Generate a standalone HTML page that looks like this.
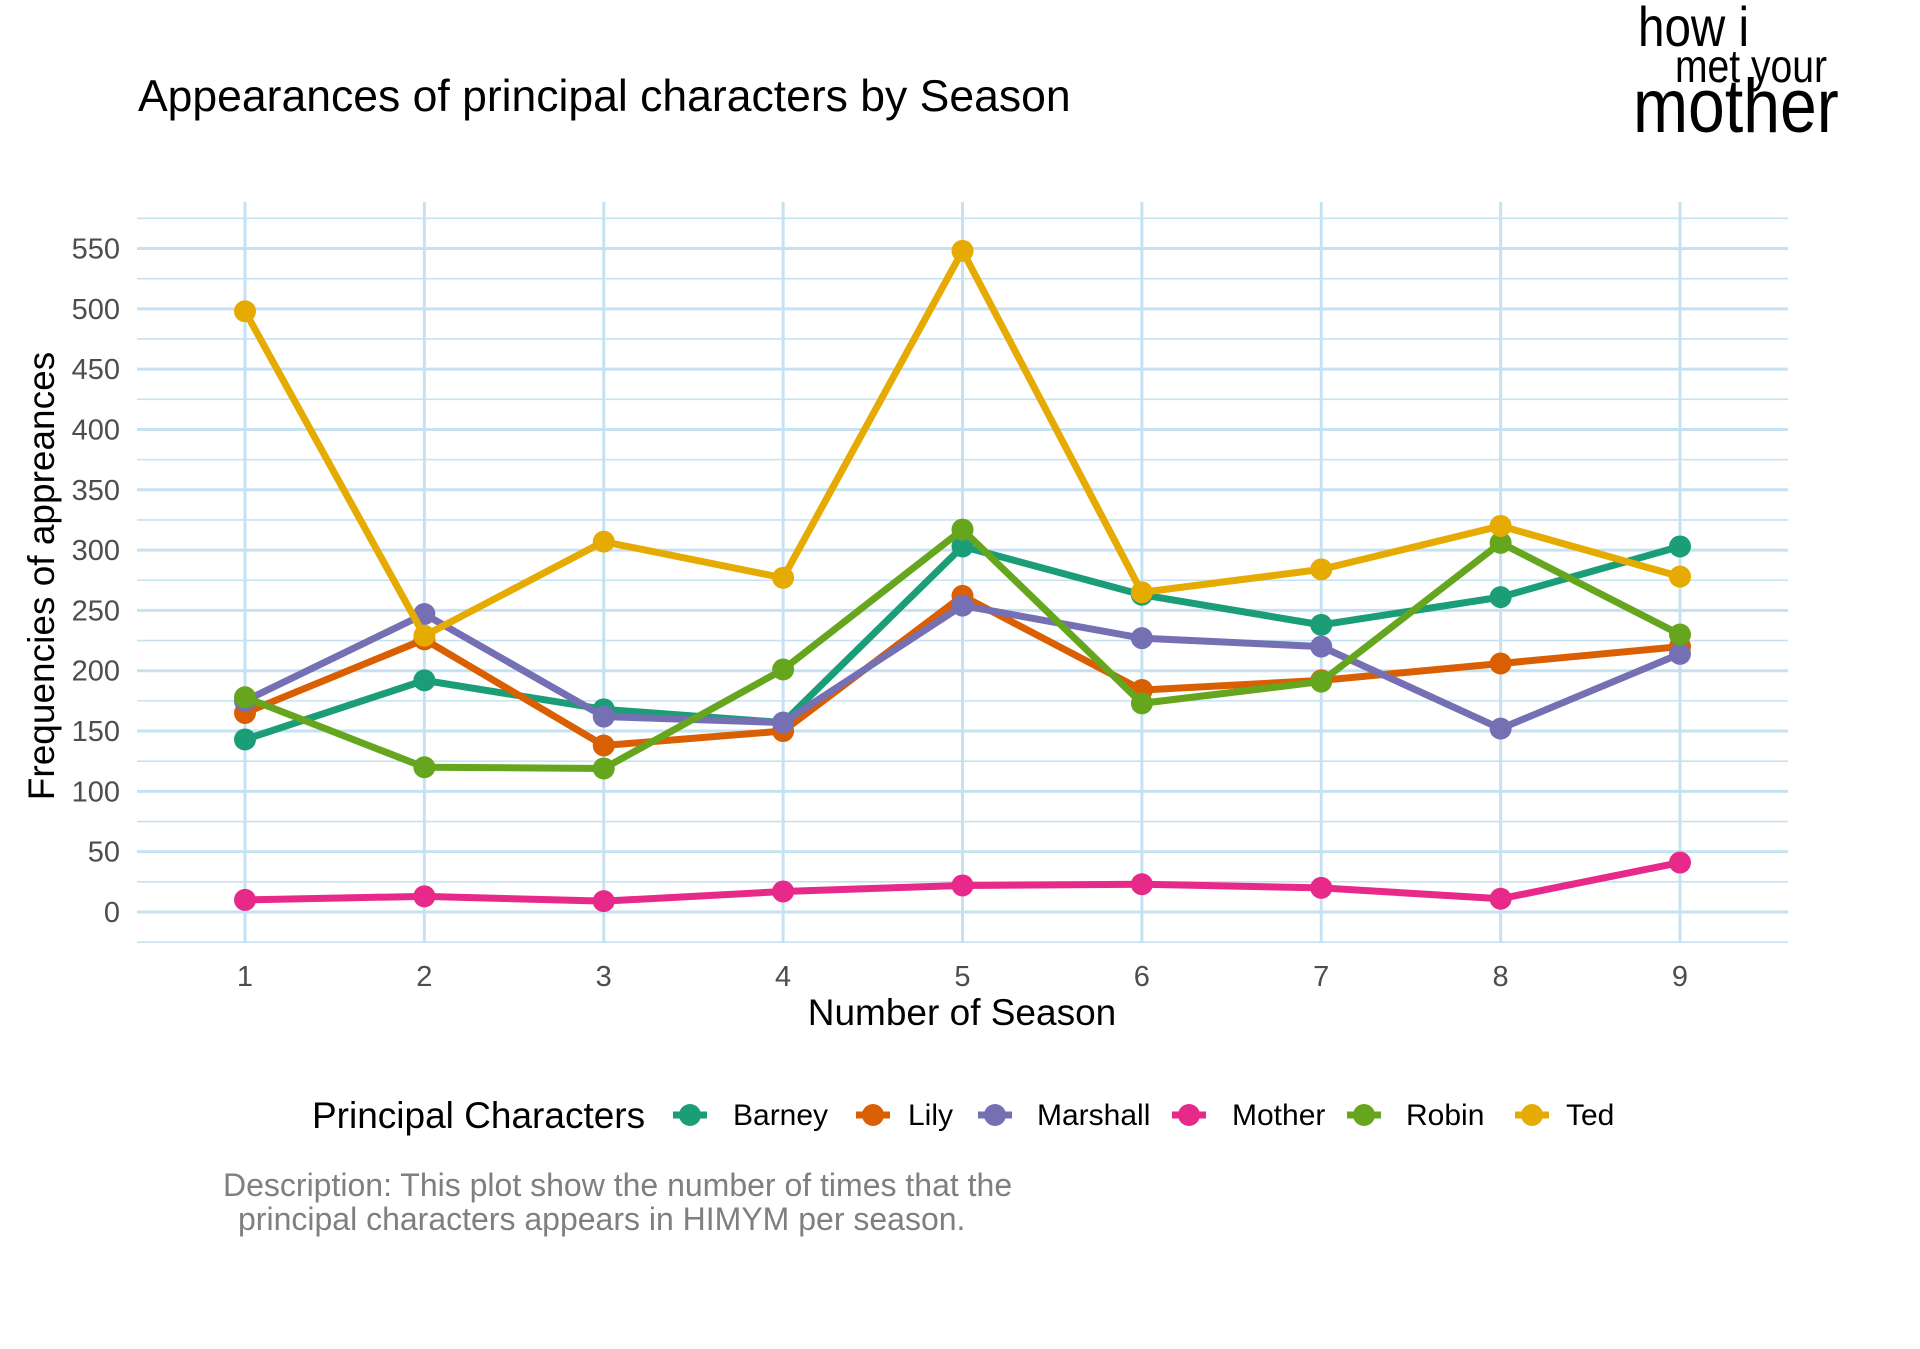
<!DOCTYPE html>
<html><head><meta charset="utf-8"><style>
body{margin:0;background:#fff;width:1920px;height:1344px;overflow:hidden;font-family:"Liberation Sans",sans-serif}
</style></head><body>
<svg width="1920" height="1344" xmlns="http://www.w3.org/2000/svg">
<text x="138" y="111" font-size="44.5" fill="#000">Appearances of principal characters by Season</text>
<g font-family="'Liberation Sans Narrow','Liberation Sans',sans-serif" fill="#000">
<text x="1638" y="46" font-size="56" transform="translate(1638,0) scale(0.85,1) translate(-1638,0)">how i</text>
<text x="1675" y="82" font-size="46" transform="translate(1675,0) scale(0.85,1) translate(-1675,0)">met your</text>
<text x="1633" y="132" font-size="76" transform="translate(1633,0) scale(0.87,1) translate(-1633,0)">mother</text>
</g>
<g id="grid"></g>
<g id="yticks"></g>
<g id="xticks"></g>
<g id="series"></g>
<text x="962" y="1025" font-size="37" text-anchor="middle" fill="#000">Number of Season</text>
<text transform="translate(54,576) rotate(-90)" font-size="37" text-anchor="middle" fill="#000">Frequencies of appreances</text>
<g id="legend">
<text x="312" y="1128" font-size="37" fill="#000">Principal Characters</text>
</g>
<text x="223" y="1196" font-size="32" fill="#7f7f7f">Description: This plot show the number of times that the</text>
<text x="238" y="1230" font-size="32" fill="#7f7f7f">principal characters appears in HIMYM per season.</text>
</svg>
<script>
const seasons=[1,2,3,4,5,6,7,8,9];
const names=["Barney","Lily","Marshall","Mother","Robin","Ted"];
const colors=["#1B9E77","#D95F02","#7570B3","#E7298A","#66A61E","#E6AB02"];
const barney=[143,192,168,157,303,263,238,261,303];
const lily=[165,226,138,150,262,184,192,206,220];
const marshall=[175,247,162,157,254,227,220,152,214];
const mother=[10,13,9,17,22,23,20,11,41];
const robin=[178,120,119,201,317,173,191,306,230];
const ted=[498,229,307,277,548,265,284,320,278];
const yTicks=[0,50,100,150,200,250,300,350,400,450,500,550];
const series=[barney,lily,marshall,mother,robin,ted];
const NS="http://www.w3.org/2000/svg";
function X(s){return 245+(s-1)*(1680-245)/8;}
function Y(v){return 912-v*(912-248.5)/550;}
function mk(t,a,p){const e=document.createElementNS(NS,t);for(const k in a)e.setAttribute(k,a[k]);p.appendChild(e);return e;}
const grid=document.getElementById('grid');
for(let v=-25;v<=575;v+=25){const major=v%50===0;
const l=mk('line',{x1:137,x2:1788,y1:Y(v),y2:Y(v),stroke:'#c6e2f2','stroke-width':major?3:1.6},grid);

}
seasons.forEach(s=>{const l=mk('line',{x1:X(s),x2:X(s),y1:202,y2:943,stroke:'#c6e2f2','stroke-width':3},grid);

});
const yt=document.getElementById('yticks');
yTicks.forEach(v=>{const t=mk('text',{x:120,y:Y(v)+10,'font-size':29,'text-anchor':'end',fill:'#4d4d4d'},yt);t.textContent=v;

});
const xt=document.getElementById('xticks');
seasons.forEach(s=>{const t=mk('text',{x:X(s),y:986,'font-size':29,'text-anchor':'middle',fill:'#4d4d4d'},xt);t.textContent=s;

});
const sg=document.getElementById('series');
series.forEach((d,i)=>{const g=mk('g',{},sg);


const pl=mk('polyline',{points:d.map((v,j)=>X(seasons[j])+','+Y(v)).join(' '),fill:'none',stroke:colors[i],'stroke-width':7,'stroke-linejoin':'round'},g);


d.forEach((v,j)=>{const c=mk('circle',{cx:X(seasons[j]),cy:Y(v),r:11,fill:colors[i]},g);

});});
const lg=document.getElementById('legend');
const keyX=[690,873,995,1189,1364,1532];
const txtX=[733,908,1037,1232,1406,1566];
names.forEach((n,i)=>{const g=mk('g',{},lg);


mk('line',{x1:keyX[i]-17,x2:keyX[i]+17,y1:1115,y2:1115,stroke:colors[i],'stroke-width':7},g);
mk('circle',{cx:keyX[i],cy:1115,r:11,fill:colors[i]},g);
const t=mk('text',{x:txtX[i],y:1125,'font-size':30,fill:'#000'},g);t.textContent=n;});
</script>
</body></html>
